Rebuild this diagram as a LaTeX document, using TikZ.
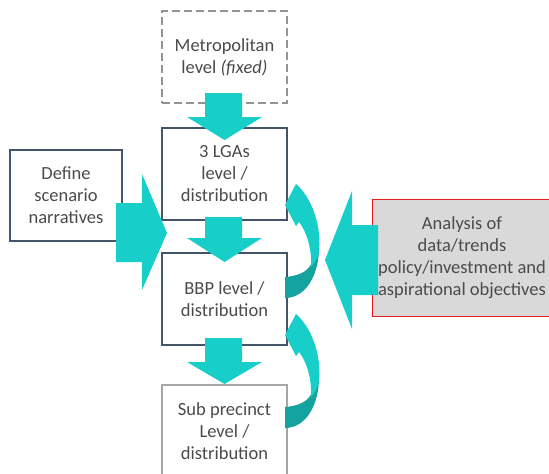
\documentclass[tikz,border=0pt]{standalone}
\usepackage{fontspec}
\setmainfont{Carlito}

\definecolor{flowteal}{RGB}{23,207,200}
\definecolor{flowdark}{RGB}{20,163,158}
\definecolor{boxline}{RGB}{68,84,106}
\definecolor{boxtext}{RGB}{75,75,75}
\definecolor{inputfill}{RGB}{217,217,217}
\definecolor{inputline}{RGB}{230,30,30}

\tikzset{
  levelbox/.style={draw=boxline, line width=1.3pt, fill=white, inner sep=0pt,
    minimum width=125, minimum height=92, align=center, text=boxtext,
    font=\fontsize{18.5}{22}\selectfont},
}

\begin{document}
\begin{tikzpicture}[x=1pt, y=-1pt]
  \useasboundingbox (0,0) rectangle (549,474);

  % the four levels
  \node[levelbox, draw=gray!85, dash pattern=on 8pt off 4pt] (metro) at (224.5,57) {Metropolitan\\level \textit{(fixed)}};
  \node[levelbox] (lga) at (224.5,174) {3 LGAs\\level /\\distribution};
  \node[levelbox] (bbp) at (224.5,299) {BBP level /\\distribution};
  \node[levelbox, draw=gray!70] (sub) at (224.5,431) {Sub precinct\\Level /\\distribution};

  % inputs on either side
  \node[levelbox, minimum width=112, minimum height=91] (define) at (66,195.5) {Define\\scenario\\narratives};
  \node[levelbox, draw=inputline, line width=1pt, fill=inputfill, minimum width=180, minimum height=117] (analysis) at (462,257.5) {Analysis of\\data/trends\\policy/investment and\\aspirational objectives};

  % block arrows down the levels
  \fill[flowteal] (205,93) -- (242,93) -- (242,117) -- (262,117) -- (224.5,140) -- (187,117) -- (205,117) -- cycle;
  \fill[flowteal] (205,217) -- (242,217) -- (242,238) -- (262,238) -- (224.5,262) -- (187,238) -- (205,238) -- cycle;
  \fill[flowteal] (205,338) -- (242,338) -- (242,362) -- (262,362) -- (224.5,384) -- (187,362) -- (205,362) -- cycle;

  % scenario narratives in
  \fill[flowteal] (116,203) -- (142,203) -- (142,174) -- (167,233) -- (142,290) -- (142,262) -- (116,262) -- cycle;
  % analysis in
  \fill[flowteal] (378,225) -- (352,225) -- (352,191) -- (325,260) -- (352,329) -- (352,295) -- (378,295) -- cycle;

  % feedback arrows back up
  \foreach \dy in {0,130} {
    \begin{scope}[shift={(0,\dy)}]
      \fill[flowdark] (285,277) .. controls (298,276) and (306,272) .. (310,266)
        -- (319,250) .. controls (318,277) and (305,298) .. (285,298) -- cycle;
      \fill[flowteal] (285,205) -- (296,184) .. controls (311,197) and (320,222) .. (319.5,245)
        .. controls (319,255) and (316,262) .. (311,267)
        .. controls (312,250) and (307,232) .. (299,222) -- (296,226) -- cycle;
    \end{scope}
  }
\end{tikzpicture}
\end{document}
